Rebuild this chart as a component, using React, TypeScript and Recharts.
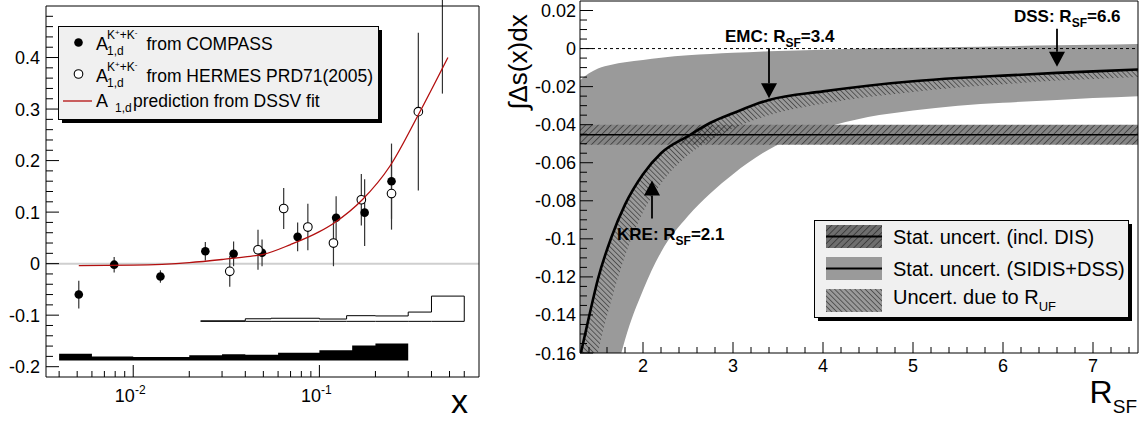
import {
  Area,
  ComposedChart,
  ErrorBar,
  Line,
  ReferenceArea,
  ReferenceDot,
  ReferenceLine,
  Scatter,
  XAxis,
  YAxis,
} from 'recharts'

const FONT = '"Liberation Sans", Arial, Helvetica, sans-serif'
const RED = '#b30f0f'

// ---------- left panel: A1,d for K+ + K- ----------
const compassX = [0.0051, 0.0079, 0.014, 0.0244, 0.0346, 0.0492, 0.0764, 0.123, 0.175, 0.244]
const compassA = [-0.06, -0.002, -0.025, 0.024, 0.019, 0.021, 0.052, 0.089, 0.099, 0.16]
const compassErr = [0.027, 0.015, 0.012, 0.018, 0.024, 0.026, 0.028, 0.042, 0.065, 0.073]

const hermesX = [0.033, 0.0468, 0.0643, 0.0867, 0.119, 0.168, 0.244, 0.34, 0.458]
const hermesA = [-0.015, 0.027, 0.107, 0.071, 0.04, 0.124, 0.136, 0.295, 0.56]
const hermesErr = [0.03, 0.039, 0.04, 0.045, 0.045, 0.05, 0.07, 0.153, 0.23]

const dssvX = [0.0051, 0.01, 0.02, 0.03, 0.04, 0.05, 0.07, 0.1, 0.12, 0.17, 0.24, 0.34, 0.49]
const dssvA = [-0.004, -0.003, 0.002, 0.008, 0.013, 0.018, 0.037, 0.062, 0.079, 0.124, 0.19, 0.289, 0.4]

// systematic bands (bin edges + bin tops)
const compassSysEdges = [0.004, 0.006, 0.01, 0.02, 0.03, 0.04, 0.06, 0.1, 0.15, 0.2, 0.3]
const compassSysTop = [-0.175, -0.18, -0.181, -0.178, -0.176, -0.177, -0.173, -0.168, -0.159, -0.155]
const compassSysBase = -0.188

const hermesSysEdges = [0.023, 0.04, 0.055, 0.1, 0.14, 0.2, 0.3, 0.4, 0.6]
const hermesSysTop = [-0.111, -0.107, -0.106, -0.1075, -0.101, -0.1015, -0.094, -0.063]
const hermesSysBase = -0.112

const leftXDomain = [0.0034, 0.72]
const leftYDomain = [-0.22, 0.5]
const leftXTicks = [
  0.004, 0.005, 0.006, 0.007, 0.008, 0.009, 0.01, 0.02, 0.03, 0.04, 0.05, 0.06, 0.07, 0.08, 0.09, 0.1,
  0.2, 0.3, 0.4, 0.5, 0.6,
]
const leftXMajor = [0.01, 0.1]
const leftXExp = ['-2', '-1']
const leftYMajor = [-0.2, -0.1, 0, 0.1, 0.2, 0.3, 0.4]

// ---------- right panel: integral of Delta s vs R_SF ----------
const rsf = [1.3, 1.4, 1.5, 1.65, 1.8, 2.0, 2.2, 2.5, 2.75, 3.0, 3.4, 4.0, 4.5, 5.0, 5.5, 6.0, 6.6, 7.0, 7.5]
const dsCentral = [
  -0.162, -0.141, -0.121, -0.099, -0.082, -0.066, -0.055, -0.046, -0.039, -0.034, -0.027, -0.0225, -0.0195,
  -0.0172, -0.0155, -0.0142, -0.0128, -0.012, -0.011,
]
const dsHatchLow = [
  -0.21, -0.185, -0.16, -0.132, -0.109, -0.086, -0.071, -0.056, -0.048, -0.042, -0.035, -0.029, -0.0255,
  -0.0228, -0.0205, -0.0188, -0.0168, -0.016, -0.015,
]
const dsBandUp = [
  -0.0167, -0.013, -0.0105, -0.0085, -0.0072, -0.006, -0.0048, -0.0035, -0.0028, -0.0022, -0.0014, -0.0006, 0.0,
  0.0004, 0.0008, 0.0012, 0.0017, 0.002, 0.0024,
]
const dsBandLow = [
  -0.3, -0.26, -0.22, -0.182, -0.153, -0.127, -0.107, -0.088, -0.076, -0.066, -0.053, -0.042, -0.036, -0.0325,
  -0.03, -0.0285, -0.027, -0.026, -0.025,
]
const disLow = -0.0505
const disMid = -0.0453
const disHigh = -0.04

const arrowNames = ['EMC', 'DSS', 'KRE']
const arrowRsf = [3.4, 6.6, 2.1]
const arrowTip = [-0.0261, -0.0095, -0.0693]

const rightXDomain = [1.3, 7.5]
const rightYDomain = [-0.16, 0.025]
const rightXMajor = [2, 3, 4, 5, 6, 7]
const rightYMajor = [-0.16, -0.14, -0.12, -0.1, -0.08, -0.06, -0.04, -0.02, 0, 0.02]

const range = (lo: number, hi: number, step: number) =>
  Array.from({ length: Math.round((hi - lo) / step) + 1 }, (_, i) => Number((lo + i * step).toFixed(4)))

const leftYTicks = range(-0.2, 0.48, 0.02)
const rightXTicks = range(1.4, 7.4, 0.2)
const rightYTicks = range(-0.16, 0.02, 0.005)

const near = (v: number, list: number[]) => list.findIndex((m) => Math.abs(m - v) < 1e-7)
const fmt = (v: number) => String(Number(v.toFixed(2)))

// pixel styling of the arrows (not data)
const arrowStyle = [
  { sgn: 1, shaft: 50, dx: -44, dy: -56 },
  { sgn: 1, shaft: 38, dx: -43, dy: -45 },
  { sgn: -1, shaft: 38, dx: -35, dy: 60 },
]

function LeftXTick({ x, y, payload }: any) {
  const k = near(payload.value, leftXMajor)
  return (
    <g>
      <line x1={x} x2={x} y1={y} y2={y - (k >= 0 ? 12 : 6)} stroke="#000" />
      {k >= 0 && (
        <text x={x - 3} y={y + 25} textAnchor="middle" fontFamily={FONT} fontSize={18} fill="#000">
          10<tspan fontSize={12} dy={-8}>{leftXExp[k]}</tspan>
        </text>
      )}
    </g>
  )
}

function LeftYTick({ x, y, payload }: any) {
  const major = near(payload.value, leftYMajor) >= 0
  return (
    <g>
      <line x1={x} x2={x + (major ? 13 : 7)} y1={y} y2={y} stroke="#000" />
      {major && (
        <text x={x - 6} y={y + 6.5} textAnchor="end" fontFamily={FONT} fontSize={18} fill="#000">
          {fmt(payload.value)}
        </text>
      )}
    </g>
  )
}

function RightXTick({ x, y, payload }: any) {
  const major = near(payload.value, rightXMajor) >= 0
  return (
    <g>
      <line x1={x} x2={x} y1={y} y2={y - (major ? 11 : 6)} stroke="#000" />
      {major && (
        <text x={x} y={y + 19} textAnchor="middle" fontFamily={FONT} fontSize={18} fill="#000">
          {fmt(payload.value)}
        </text>
      )}
    </g>
  )
}

function RightYTick({ x, y, payload }: any) {
  const major = near(payload.value, rightYMajor) >= 0
  return (
    <g>
      <line x1={x} x2={x + (major ? 13 : 7)} y1={y} y2={y} stroke="#000" />
      {major && (
        <text x={x - 4} y={y + 6.5} textAnchor="end" fontFamily={FONT} fontSize={18} fill="#000">
          {fmt(payload.value)}
        </text>
      )}
    </g>
  )
}

function ArrowMark({ cx, cy, idx }: any) {
  const s = arrowStyle[idx]
  const head = 15
  const half = 8
  return (
    <g>
      <line x1={cx} x2={cx} y1={cy - s.sgn * s.shaft} y2={cy - s.sgn * head} stroke="#000" strokeWidth={1.8} />
      <polygon
        points={`${cx},${cy} ${cx - half},${cy - s.sgn * head} ${cx + half},${cy - s.sgn * head}`}
        fill="#000"
      />
      <text x={cx + s.dx} y={cy + s.dy} fontFamily={FONT} fontWeight="bold" fontSize={17} fill="#000">
        {arrowNames[idx]}: R<tspan fontSize={12} dy={5}>SF</tspan>
        <tspan dy={-5}>={arrowRsf[idx]}</tspan>
      </text>
    </g>
  )
}

function AsymmetryPanel() {
  const compass = compassX.map((x, i) => ({ x, y: compassA[i], e: compassErr[i] }))
  const hermes = hermesX.map((x, i) => ({ x, y: hermesA[i], e: hermesErr[i] }))
  const dssv = dssvX.map((x, i) => ({ x, y: dssvA[i] }))
  const compassSys = compassSysEdges.map((x, i) => ({
    x,
    band: [compassSysBase, compassSysTop[Math.min(i, compassSysTop.length - 1)]],
  }))
  const hermesSys = hermesSysEdges.map((x, i) => ({
    x,
    band: [hermesSysBase, hermesSysTop[Math.min(i, hermesSysTop.length - 1)]],
  }))
  const hLast = hermesSysEdges.length - 1

  return (
    <ComposedChart width={500} height={421} margin={{ top: 6, right: 21, bottom: 0, left: 0 }}>
      <XAxis
        dataKey="x"
        type="number"
        scale="log"
        domain={leftXDomain}
        allowDataOverflow
        ticks={leftXTicks}
        interval={0}
        tick={(p: any) => <LeftXTick {...p} />}
        tickLine={false}
        axisLine={false}
        tickSize={0}
        tickMargin={0}
        height={44}
      />
      <YAxis
        type="number"
        domain={leftYDomain}
        allowDataOverflow
        ticks={leftYTicks}
        interval={0}
        tick={(p: any) => <LeftYTick {...p} />}
        tickLine={false}
        axisLine={false}
        tickSize={0}
        tickMargin={0}
        width={46}
      />
      <ReferenceLine y={0} stroke="#cfcfcf" strokeWidth={2} zIndex={50} />
      <Area
        data={compassSys}
        dataKey="band"
        type="stepAfter"
        fill="#000"
        fillOpacity={1}
        stroke="none"
        dot={false}
        activeDot={false}
        isAnimationActive={false}
        zIndex={100}
      />
      <Area
        data={hermesSys}
        dataKey="band"
        type="stepAfter"
        fill="none"
        stroke="#000"
        strokeWidth={1}
        dot={false}
        activeDot={false}
        isAnimationActive={false}
        zIndex={100}
      />
      <ReferenceLine
        segment={[
          { x: hermesSysEdges[hLast], y: hermesSysBase },
          { x: hermesSysEdges[hLast], y: hermesSysTop[hermesSysTop.length - 1] },
        ]}
        stroke="#000"
        strokeWidth={1}
        ifOverflow="visible"
        zIndex={110}
      />
      <Scatter
        data={compass}
        dataKey="y"
        isAnimationActive={false}
        shape={(p: any) => <circle cx={p.cx} cy={p.cy} r={4.3} fill="#000" />}
        zIndex={600}
      >
        <ErrorBar dataKey="e" direction="y" width={0} stroke="#333" strokeWidth={1.2} />
      </Scatter>
      <Scatter
        data={hermes}
        dataKey="y"
        isAnimationActive={false}
        shape={(p: any) => <circle cx={p.cx} cy={p.cy} r={4.3} fill="#fff" stroke="#000" strokeWidth={1.1} />}
        zIndex={610}
      >
        <ErrorBar dataKey="e" direction="y" width={0} stroke="#333" strokeWidth={1.2} />
      </Scatter>
      <Line
        data={dssv}
        dataKey="y"
        type="monotone"
        stroke={RED}
        strokeWidth={1.3}
        dot={false}
        activeDot={false}
        isAnimationActive={false}
        zIndex={700}
      />
      <ReferenceArea
        x1={leftXDomain[0]}
        x2={leftXDomain[1]}
        y1={leftYDomain[0]}
        y2={leftYDomain[1]}
        fill="none"
        stroke="#000"
        strokeWidth={1}
        zIndex={800}
      />
    </ComposedChart>
  )
}

function StrangenessPanel() {
  const rows = rsf.map((R, i) => ({
    R,
    central: dsCentral[i],
    hatch: [dsHatchLow[i], dsCentral[i]],
    band: [dsBandLow[i], dsBandUp[i]],
  }))

  return (
    <ComposedChart width={644} height={421} data={rows} margin={{ top: 1, right: 6, bottom: 0, left: 0 }}>
      <XAxis
        dataKey="R"
        type="number"
        domain={rightXDomain}
        allowDataOverflow
        ticks={rightXTicks}
        interval={0}
        tick={(p: any) => <RightXTick {...p} />}
        tickLine={false}
        axisLine={false}
        tickSize={0}
        tickMargin={0}
        height={68}
      />
      <YAxis
        type="number"
        domain={rightYDomain}
        allowDataOverflow
        ticks={rightYTicks}
        interval={0}
        tick={(p: any) => <RightYTick {...p} />}
        tickLine={false}
        axisLine={false}
        tickSize={0}
        tickMargin={0}
        width={80}
      />
      <Area
        dataKey="band"
        type="monotone"
        fill="#9a9a9a"
        fillOpacity={1}
        stroke="none"
        dot={false}
        activeDot={false}
        isAnimationActive={false}
        zIndex={100}
      />
      <ReferenceArea y1={disLow} y2={disHigh} fill="url(#disHatch)" fillOpacity={1} stroke="none" zIndex={110} />
      <ReferenceLine y={disMid} stroke="#000" strokeWidth={1.5} zIndex={115} />
      <Area
        dataKey="hatch"
        type="monotone"
        fill="url(#rufHatch)"
        fillOpacity={1}
        stroke="none"
        dot={false}
        activeDot={false}
        isAnimationActive={false}
        zIndex={120}
      />
      <ReferenceLine y={0} stroke="#000" strokeWidth={1} strokeDasharray="3 3" zIndex={130} />
      <Line
        dataKey="central"
        type="monotone"
        stroke="#000"
        strokeWidth={2.6}
        dot={false}
        activeDot={false}
        isAnimationActive={false}
        zIndex={400}
      />
      {arrowRsf.map((r, i) => (
        <ReferenceDot
          key={arrowNames[i]}
          x={r}
          y={arrowTip[i]}
          r={0}
          ifOverflow="visible"
          shape={(p: any) => <ArrowMark {...p} idx={i} />}
          zIndex={650}
        />
      ))}
      <ReferenceArea
        x1={rightXDomain[0]}
        x2={rightXDomain[1]}
        y1={rightYDomain[0]}
        y2={rightYDomain[1]}
        fill="none"
        stroke="#000"
        strokeWidth={1}
        zIndex={800}
      />
    </ComposedChart>
  )
}

function Overlay() {
  return (
    <svg
      width={1144}
      height={421}
      style={{ position: 'absolute', left: 0, top: 0, pointerEvents: 'none' }}
      fontFamily={FONT}
    >
      <defs>
        <pattern id="disHatch" width={4.5} height={4.5} patternUnits="userSpaceOnUse" patternTransform="rotate(45)">
          <rect width={4.5} height={4.5} fill="#858585" />
          <line x1={0} y1={0} x2={0} y2={4.5} stroke="#222" strokeWidth={1.2} />
        </pattern>
        <pattern id="rufHatch" width={3.6} height={3.6} patternUnits="userSpaceOnUse" patternTransform="rotate(-45)">
          <line x1={0} y1={0} x2={0} y2={3.6} stroke="#111" strokeWidth={1} />
        </pattern>
        <pattern id="legDis" width={4.5} height={4.5} patternUnits="userSpaceOnUse" patternTransform="rotate(45)">
          <rect width={4.5} height={4.5} fill="#6e6e6e" />
          <line x1={0} y1={0} x2={0} y2={4.5} stroke="#222" strokeWidth={1.2} />
        </pattern>
      </defs>

      {/* left legend */}
      <rect x={62} y={30} width={320} height={93} fill="#000" />
      <rect x={58.5} y={26.5} width={320} height={93} fill="#f0f0f0" stroke="#000" />
      <circle cx={78.5} cy={42.5} r={4.3} fill="#000" />
      <text x={96} y={50} fontSize={18}>A</text>
      <text x={107} y={39} fontSize={12}>
        K<tspan fontSize={8} dy={-4}>+</tspan>
        <tspan dy={4}>+K</tspan>
        <tspan fontSize={8} dy={-4}>-</tspan>
      </text>
      <text x={107} y={55} fontSize={12}>1,d</text>
      <text x={146.5} y={50} fontSize={17.5}>from COMPASS</text>

      <circle cx={78.5} cy={74} r={4.3} fill="#fff" stroke="#000" strokeWidth={1.1} />
      <text x={96} y={81.5} fontSize={18}>A</text>
      <text x={107} y={70.5} fontSize={12}>
        K<tspan fontSize={8} dy={-4}>+</tspan>
        <tspan dy={4}>+K</tspan>
        <tspan fontSize={8} dy={-4}>-</tspan>
      </text>
      <text x={107} y={86.5} fontSize={12}>1,d</text>
      <text x={146.5} y={81.5} fontSize={17.5}>from HERMES PRD71(2005)</text>

      <line x1={63} x2={92} y1={101} y2={101} stroke={RED} strokeWidth={1.3} />
      <text x={96} y={106.5} fontSize={18}>A</text>
      <text x={115} y={111.5} fontSize={12}>1,d</text>
      <text x={133} y={106.5} fontSize={17.5}>prediction from DSSV fit</text>

      {/* left axis title */}
      <text x={468} y={413} textAnchor="end" fontSize={34}>x</text>

      {/* right legend */}
      <rect x={818} y={224} width={314} height={97} fill="#000" />
      <rect x={814.5} y={220.5} width={314} height={97} fill="#f0f0f0" stroke="#000" />
      <rect x={826} y={225} width={56} height={23} fill="url(#legDis)" />
      <line x1={826} x2={882} y1={236.5} y2={236.5} stroke="#000" strokeWidth={2} />
      <text x={893} y={243.5} fontSize={20}>Stat. uncert. (incl. DIS)</text>
      <rect x={826} y={257} width={56} height={23} fill="#9a9a9a" />
      <line x1={826} x2={882} y1={268.5} y2={268.5} stroke="#000" strokeWidth={2} />
      <text x={893} y={275.5} fontSize={20}>Stat. uncert. (SIDIS+DSS)</text>
      <rect x={826} y={289} width={56} height={23} fill="#9a9a9a" />
      <rect x={826} y={289} width={56} height={23} fill="url(#rufHatch)" />
      <text x={893} y={303.5} fontSize={20}>
        Uncert. due to R<tspan fontSize={13} dy={7}>UF</tspan>
      </text>

      {/* right axis titles */}
      <text transform="translate(527,62) rotate(-90)" textAnchor="middle" fontSize={26}>
        ∫Δs(x)dx
      </text>
      <text x={1137} y={403} textAnchor="end" fontSize={32}>
        R<tspan fontSize={19} dy={10}>SF</tspan>
      </text>
    </svg>
  )
}

export default function App() {
  return (
    <div style={{ position: 'absolute', left: 0, top: 0, width: 1144, height: 421, background: '#fff' }}>
      <div style={{ position: 'absolute', left: 0, top: 0 }}>
        <AsymmetryPanel />
      </div>
      <div style={{ position: 'absolute', left: 500, top: 0 }}>
        <StrangenessPanel />
      </div>
      <Overlay />
    </div>
  )
}
